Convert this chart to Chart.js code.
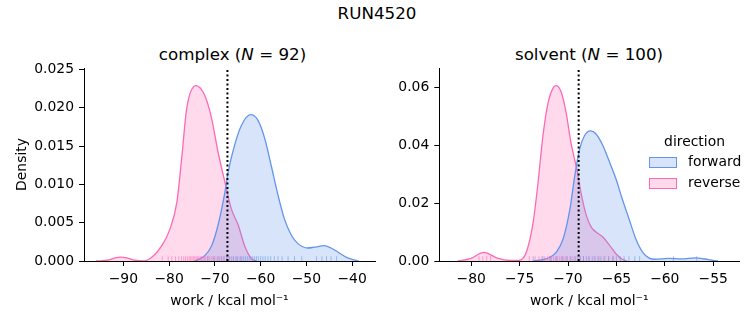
<!DOCTYPE html>
<html>
<head>
<meta charset="utf-8">
<script src="https://cdn.jsdelivr.net/npm/chart.js@4.4.0/dist/chart.umd.min.js"></script>
<style>
  body {
    margin: 0;
    width: 753px;
    height: 325px;
    position: relative;
    overflow: hidden;
    background: #fff;
    color: #000;
    font-family: "DejaVu Sans", sans-serif;
  }
  canvas { position: absolute; top: 0; }
  #complexChart { left: 0; }
  #solventChart { left: 380px; }
  .label {
    position: absolute;
    white-space: nowrap;
    transform: translate(-50%, -50%);
    line-height: 1;
  }
  .big { font-size: 16.7px; }
  .legend-text { position: absolute; font-size: 13.9px; white-space: nowrap; transform: translateY(-50%); line-height: 1; }
  .patch { position: absolute; width: 26px; height: 9px; box-sizing: content-box; }
</style>
</head>
<body>
<div class="label big" id="figTitle" style="left:377px; top:13px;"></div>
<div class="label big" id="complexTitle" style="left:232.5px; top:54px;"></div>
<div class="label big" id="solventTitle" style="left:589px; top:54px;"></div>

<canvas id="complexChart" width="380" height="325"></canvas>
<canvas id="solventChart" width="373" height="325"></canvas>

<div class="label" id="legendTitle" style="left:694.5px; top:142px; font-size:13.9px;"></div>
<div class="patch" id="patchForward" style="left:649px; top:157px;"></div>
<div class="legend-text" id="textForward" style="left:688px; top:161.5px;"></div>
<div class="patch" id="patchReverse" style="left:649px; top:178px;"></div>
<div class="legend-text" id="textReverse" style="left:688px; top:182.5px;"></div>

<script>
// Labels
const figureTitle = 'RUN4520';
const xAxisLabel = 'work / kcal mol⁻¹';
const yAxisLabel = 'Density';
const legendTitle = 'direction';
const directions = ['forward', 'reverse'];

// Complex phase: KDE
const complexN = 92;
const complexFwdWork = [-74.4, -72.2, -70.7, -69.3, -67.8, -67.1, -65.7, -64.2, -62.2, -60.6, -59.1, -57.7, -56.2, -54.8, -53.3, -51.9, -49.7, -48.3, -46.1, -44.6, -43.2, -41.0, -38.6];
const complexFwdDensity = [0, 0.0007, 0.002, 0.0047, 0.009, 0.0116, 0.0151, 0.0177, 0.0191, 0.0184, 0.016, 0.0125, 0.0086, 0.0055, 0.0034, 0.0023, 0.0017, 0.0018, 0.002, 0.0017, 0.0012, 0.0004, 0];
const complexRevWork = [-96.0, -93.5, -91.8, -90.6, -89.2, -87.5, -85.5, -83.4, -81.6, -79.8, -78.3, -77.25, -76.16, -74.13, -72.2, -70.7, -69.3, -67.8, -66.4, -64.9, -63.5, -62.0, -60.9];
const complexRevDensity = [0, 0.0001, 0.0004, 0.0005, 0.0004, 0.0001, 0, 0.0007, 0.002, 0.0042, 0.0077, 0.0134, 0.0199, 0.0229, 0.0216, 0.0186, 0.0142, 0.0103, 0.0068, 0.0047, 0.002, 0.0003, 0];
const complexFwdRug = [-71.5, -70.2, -69.3, -68.6, -68.0, -67.4, -66.9, -66.4, -65.9, -65.4, -65.0, -64.5, -64.1, -63.7, -63.3, -62.9, -62.5, -62.1, -61.7, -61.3, -60.9, -60.5, -60.0, -59.5, -59.0, -58.4, -57.8, -57.0, -56.2, -55.3, -54.0, -52.6, -51.0, -47.8, -46.6, -45.6, -44.6, -43.4];
const complexRevRug = [-81.5, -80.2, -79.4, -78.6, -77.9, -77.3, -76.8, -76.4, -76.0, -75.6, -75.3, -75.0, -74.7, -74.4, -74.1, -73.8, -73.5, -73.2, -72.9, -72.6, -72.3, -72.0, -71.6, -71.2, -70.8, -70.4, -70.0, -69.5, -69.0, -68.5, -68.0, -67.4, -66.8, -66.0, -65.2, -64.3];
const complexMarker = -67.25;

// Solvent phase
const solventN = 100;
const solventFwdWork = [-73.6, -72.2, -71.2, -70.5, -69.8, -69.3, -68.8, -68.3, -67.7, -67.1, -66.4, -65.7, -65.05, -64.4, -63.7, -63.0, -62.3, -61.6, -61.0, -59.6, -58.2, -56.9, -55.5, -55.0, -54.5];
const solventFwdDensity = [0, 0.0008, 0.0031, 0.0077, 0.018, 0.0295, 0.0387, 0.0433, 0.045, 0.0439, 0.0399, 0.0341, 0.0284, 0.0215, 0.0146, 0.0077, 0.0031, 0.001, 0.0006, 0.0009, 0.0007, 0.0011, 0.0005, 0.0002, 0];
const solventRevWork = [-81.4, -80.1, -78.7, -77.3, -76.0, -75.1, -74.3, -73.6, -73.1, -72.6, -72.05, -71.5, -71.2, -70.7, -70.2, -69.7, -69.1, -68.6, -68.1, -67.6, -67.1, -66.4, -65.7, -65.05, -64.4, -63.9];
const solventRevDensity = [0, 0.0008, 0.003, 0.001, 0.0002, 0.0002, 0.0031, 0.0134, 0.027, 0.043, 0.0548, 0.06, 0.0606, 0.0583, 0.0514, 0.041, 0.0318, 0.0226, 0.0157, 0.0117, 0.01, 0.0083, 0.0054, 0.0025, 0.0006, 0];
const solventFwdRug = [-73.6, -72.6, -71.8, -71.2, -70.6, -70.1, -69.7, -69.3, -69.0, -68.7, -68.4, -68.1, -67.8, -67.5, -67.2, -66.9, -66.6, -66.2, -65.8, -65.4, -65.0, -64.6, -64.2, -63.7, -63.1, -62.6, -59.1, -56.7];
const solventRevRug = [-79.2, -78.8, -78.4, -78.0, -74.0, -73.4, -73.0, -72.7, -72.4, -72.1, -71.9, -71.7, -71.5, -71.3, -71.1, -70.9, -70.7, -70.5, -70.3, -70.1, -69.8, -69.5, -69.2, -68.8, -68.4, -67.9, -67.3, -66.8, -66.3, -65.8, -65.3];
const solventMarker = -68.9;

// Axis ranges
const complexX = { min: -98.6, max: -35.0, step: 10 };
const complexY = { max: 0.0252, step: 0.005, decimals: 3 };
const solventX = { min: -83.3, max: -52.3, step: 5 };
const solventY = { max: 0.0667, step: 0.02, decimals: 2 };

// Styling
const FONT = 'DejaVu Sans';
const colors = {
    forward: { line: '#6495ED', fill: 'rgba(100,149,237,0.25)', rug: 'rgba(100,149,237,0.55)' },
    reverse: { line: '#FF69B4', fill: 'rgba(255,105,180,0.25)', rug: 'rgba(255,105,180,0.55)' }
};
const RUG_FRACTION = 2.4 / 193;

function zip(xs, ys) {
    return xs.map((x, i) => ({ x: x, y: ys[i] }));
}

function kdeDataset(work, density, dir) {
    return {
        type: 'line',
        data: zip(work, density),
        borderColor: colors[dir].line,
        backgroundColor: colors[dir].fill,
        borderWidth: 1.3,
        fill: 'origin',
        pointRadius: 0,
        cubicInterpolationMode: 'monotone',
        order: 3
    };
}

function rugDataset(values, yMax, dir) {
    return {
        type: 'scatter',
        data: values.map(v => ({ x: v, y: yMax * RUG_FRACTION })),
        pointStyle: 'line',
        rotation: 90,
        pointRadius: 2.4,
        borderColor: colors[dir].rug,
        borderWidth: 1,
        order: 2
    };
}

function markerDataset(x, yMax) {
    return {
        type: 'line',
        data: [{ x: x, y: 0 }, { x: x, y: yMax }],
        borderColor: '#000',
        borderWidth: 2,
        borderDash: [2, 2.5],
        pointRadius: 0,
        fill: false,
        order: 1
    };
}

function makeChart(canvasId, phase) {
    const ctx = document.getElementById(canvasId).getContext('2d');
    return new Chart(ctx, {
        type: 'line',
        data: {
            datasets: [
                markerDataset(phase.marker, phase.yAxis.max),
                rugDataset(phase.fwdRug, phase.yAxis.max, 'forward'),
                rugDataset(phase.revRug, phase.yAxis.max, 'reverse'),
                kdeDataset(phase.fwdWork, phase.fwdDensity, 'forward'),
                kdeDataset(phase.revWork, phase.revDensity, 'reverse')
            ]
        },
        options: {
            responsive: false,
            animation: false,
            layout: { padding: { top: 68, left: 0, right: phase.padRight, bottom: 0 } },
            plugins: { legend: { display: false }, tooltip: { enabled: false } },
            scales: {
                x: {
                    type: 'linear',
                    min: phase.xAxis.min,
                    max: phase.xAxis.max,
                    afterFit: s => { s.height = 64; },
                    border: { display: true, color: '#000', width: 1 },
                    grid: { drawOnChartArea: false, drawTicks: true, tickLength: 5, tickColor: '#000' },
                    ticks: {
                        stepSize: phase.xAxis.step,
                        includeBounds: false,
                        maxRotation: 0,
                        padding: 5,
                        color: '#000',
                        font: { family: FONT, size: 13.9 },
                        callback: v => String(v).replace('-', '\u2212')
                    },
                    title: {
                        display: true,
                        text: xAxisLabel,
                        color: '#000',
                        font: { family: FONT, size: 13.9 },
                        padding: { top: 0, bottom: 15.5 }
                    }
                },
                y: {
                    min: 0,
                    max: phase.yAxis.max,
                    afterFit: s => { s.width = phase.yWidth; },
                    border: { display: true, color: '#000', width: 1 },
                    grid: { drawOnChartArea: false, drawTicks: true, tickLength: 5, tickColor: '#000' },
                    ticks: {
                        stepSize: phase.yAxis.step,
                        includeBounds: false,
                        padding: 5,
                        color: '#000',
                        font: { family: FONT, size: 13.9 },
                        callback: v => v.toFixed(phase.yAxis.decimals)
                    },
                    title: {
                        display: phase.showYTitle,
                        text: yAxisLabel,
                        color: '#000',
                        font: { family: FONT, size: 13.9 },
                        padding: { top: 14, bottom: 0 }
                    }
                }
            }
        }
    });
}

function setTitle(id, name, n) {
    const el = document.getElementById(id);
    el.innerHTML = name + ' (<i>N</i> = ' + n + ')';
}

function buildLegend() {
    document.getElementById('legendTitle').textContent = legendTitle;
    document.getElementById('textForward').textContent = directions[0];
    document.getElementById('textReverse').textContent = directions[1];
    const pf = document.getElementById('patchForward');
    pf.style.background = colors.forward.fill;
    pf.style.border = '1px solid ' + colors.forward.line;
    const pr = document.getElementById('patchReverse');
    pr.style.background = colors.reverse.fill;
    pr.style.border = '1px solid ' + colors.reverse.line;
}

document.getElementById('figTitle').textContent = figureTitle;
setTitle('complexTitle', 'complex', complexN);
setTitle('solventTitle', 'solvent', solventN);
buildLegend();

makeChart('complexChart', {
    fwdWork: complexFwdWork, fwdDensity: complexFwdDensity,
    revWork: complexRevWork, revDensity: complexRevDensity,
    fwdRug: complexFwdRug, revRug: complexRevRug,
    marker: complexMarker,
    xAxis: complexX, yAxis: complexY,
    yWidth: 84, padRight: 1, showYTitle: true
});

makeChart('solventChart', {
    fwdWork: solventFwdWork, fwdDensity: solventFwdDensity,
    revWork: solventRevWork, revDensity: solventRevDensity,
    fwdRug: solventFwdRug, revRug: solventRevRug,
    marker: solventMarker,
    xAxis: solventX, yAxis: solventY,
    yWidth: 59.3, padRight: 13.7, showYTitle: false
});
</script>
</body>
</html>
